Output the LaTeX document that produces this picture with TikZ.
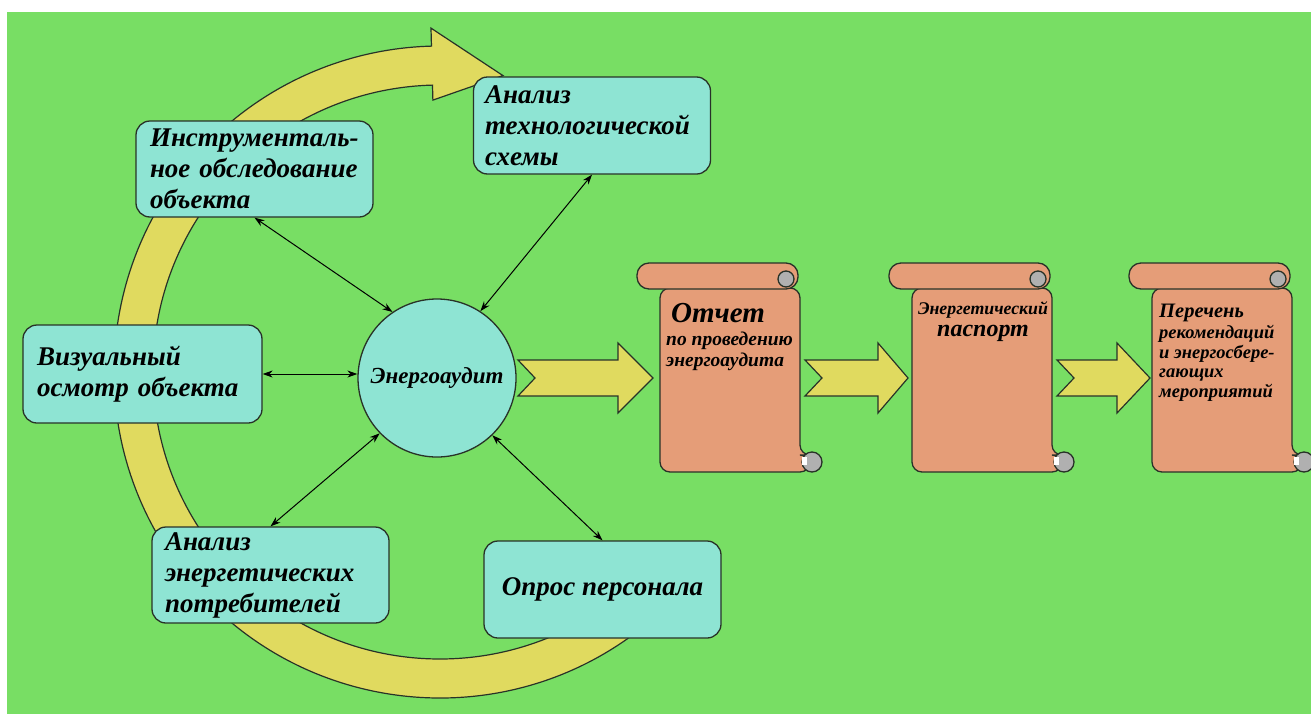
\documentclass[tikz,border=0pt]{standalone}
\usepackage{fontspec}
\setmainfont{Liberation Serif}
\usetikzlibrary{positioning,arrows.meta}
\definecolor{bggreen}{RGB}{120,222,100}
\definecolor{bandyellow}{RGB}{224,218,95}
\definecolor{boxteal}{RGB}{142,228,211}
\definecolor{scrollred}{RGB}{229,157,120}
\definecolor{curlgrey}{RGB}{176,176,176}
\definecolor{edgedark}{RGB}{40,50,40}
\tikzset{
  itembox/.style={draw=edgedark,line width=1.3pt,fill=boxteal,rounded corners=14pt,
    minimum width=237pt,minimum height=96pt,inner sep=0pt,align=left,
    font=\fontsize{27}{31}\selectfont\bfseries\itshape},
  twoway/.style={{Stealth[length=10pt,width=7pt]}-{Stealth[length=10pt,width=7pt]},line width=1pt},
  yellowband/.style={fill=bandyellow,draw=edgedark,line width=1.2pt},
  scrollbody/.style={fill=scrollred,draw=edgedark,line width=1.3pt},
  curl/.style={fill=curlgrey,draw=edgedark,line width=1.3pt},
  scrolltext/.style={inner sep=0pt,align=left}
}
\begin{document}
\begin{tikzpicture}[x=1pt,y=-1pt]
\useasboundingbox (0,0) rectangle (1311,715);
% Фон
\fill[white] (0,0) rectangle (1311,715);
\fill[bggreen] (7,12) rectangle (1311,714);
% Круговая стрелка
\begin{scope}[shift={(440,372)}]
  \draw[yellowband] (50:326) arc[start angle=50,end angle=268.5,radius=326]
    -- (268.5:344) -- (282:303) -- (268.5:272) -- (268.5:287)
    arc[start angle=268.5,end angle=50,radius=287] -- cycle;
\end{scope}
% Этапы обследования
\node[itembox,text width=209pt] (instr) at (254.5,169) {Инструменталь-\\ное обследование\\объекта};
\node[itembox,minimum height=97pt,text width=214pt] (tech) at (592,125.5) {Анализ\\технологической\\схемы};
\node[itembox,minimum width=239pt,minimum height=98pt,text width=211pt] (visual) at (142.5,374) {Визуальный\\осмотр объекта};
\node[itembox,text width=211pt] (consumers) at (270.5,575) {Анализ\\энергетических\\потребителей};
\node[itembox,minimum height=97pt,align=center] (survey) at (602.5,589.5) {Опрос персонала};
% Энергоаудит
\node[circle,draw=edgedark,line width=1.3pt,fill=boxteal,minimum size=158pt,inner sep=0pt,
  font=\fontsize{23}{26}\selectfont\bfseries\itshape] (audit) at (437,378) {Энергоаудит};
% Связи
\draw[twoway] (audit.124) -- (instr.south);
\draw[twoway] (audit.57) -- (tech.south);
\draw[twoway] (audit.west |- visual.east) -- (visual.east);
\draw[twoway] (audit.224) -- (consumers.north);
\draw[twoway] (audit.314) -- (survey.north);
% Свитки
\foreach \x in {660,912,1152} {
  \draw[scrollbody,rounded corners=10pt] (\x+140,288) -- (\x,288) -- (\x,472) -- (\x+150,472) -- (\x+150,455) -- (\x+140,455) -- cycle;
  \draw[curl] (\x+152,462) circle (10);
  \fill[white] (\x+142,457) rectangle (\x+147,465);
  \draw[scrollbody,rounded corners=12pt] (\x-23,263) rectangle (\x+138,289);
  \draw[curl] (\x+126,279) circle (8);
}
% Широкие стрелки
\foreach \t/\b/\p in {518/618/653,805/878/908,1057/1117/1150}
  \draw[yellowband] (\t,360) -- (\b,360) -- (\b,343) -- (\p,378) -- (\b,413) -- (\b,396) -- (\t,396) -- (\t+17,378) -- cycle;
% Тексты свитков
\node[scrolltext,font=\fontsize{29}{31}\selectfont\bfseries\itshape] (report) at (718,313) {Отчет};
\node[scrolltext,anchor=north west,font=\fontsize{19.5}{21}\selectfont\bfseries\itshape] (reportsub) at (666,332) {по проведению\\энергоаудита};
\node[scrolltext,font=\fontsize{17.8}{20}\selectfont\bfseries\itshape] (passtitle) at (983,310) {Энергетический};
\node[scrolltext,font=\fontsize{24}{27}\selectfont\bfseries\itshape] (passport) at (983,333) {паспорт};
\node[scrolltext,anchor=north west,font=\fontsize{20.5}{23}\selectfont\bfseries\itshape] (measures) at (1159,304) {Перечень};
\node[scrolltext,anchor=north west,font=\fontsize{18.5}{19.7}\selectfont\bfseries\itshape] (measuressub) at (1159,325) {рекомендаций\\и энергосбере-\\гающих\\мероприятий};
\end{tikzpicture}
\end{document}
